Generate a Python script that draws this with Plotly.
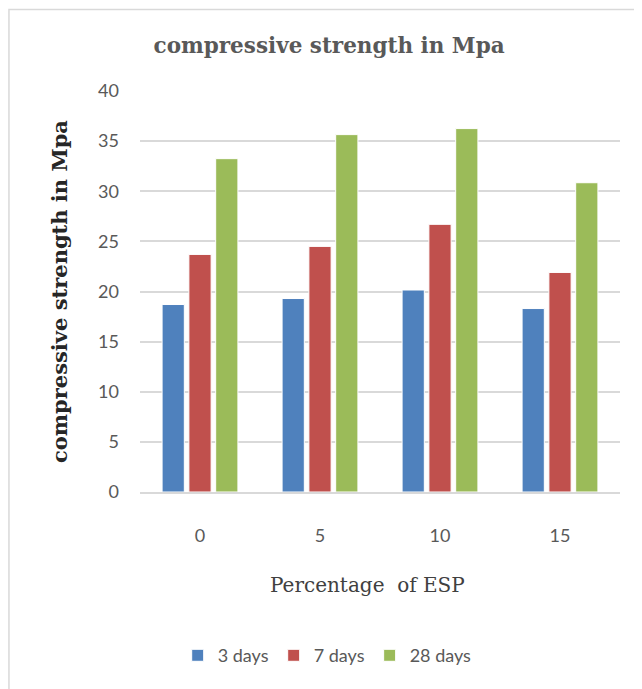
import plotly.graph_objects as go

esp = ["0", "5", "10", "15"]
days_3 = [18.7, 19.3, 20.15, 18.3]
days_7 = [23.7, 24.5, 26.7, 21.9]
days_28 = [33.25, 35.65, 36.25, 30.85]

colors = {"3 days": "#4F81BD", "7 days": "#C0504D", "28 days": "#9BBB59"}

fig = go.Figure()
for name, vals in [("3 days", days_3), ("7 days", days_7), ("28 days", days_28)]:
    fig.add_trace(go.Bar(x=esp, y=vals, name=name, marker=dict(color=colors[name], line=dict(color="white", width=1))))

# light border around the chart (only left and top edges show in the original)
fig.add_shape(type="rect", xref="paper", yref="paper", x0=-0.273, x1=1.07, y0=-0.52, y1=1.203,
              line=dict(color="#D9D9D9", width=1.5), layer="below")

# x axis title sits a little left of the plot centre in the original
fig.add_annotation(text="Percentage  of ESP", xref="paper", yref="paper", x=0.473, y=-0.232,
                   showarrow=False, xanchor="center", yanchor="middle",
                   font=dict(family="DejaVu Serif", size=20, color="#404040"))

# page body has an 8px margin, so the figure is a bit smaller than the window
fig.update_layout(
    width=634, height=681,
    margin=dict(l=132, r=22, t=83, b=197),
    paper_bgcolor="white", plot_bgcolor="white",
    barmode="group", bargap=0.33, bargroupgap=0.17,
    title=dict(text="<b>compressive strength in Mpa</b>", x=0.394, xanchor="center", xref="paper",
               y=0.945, yanchor="middle",
               font=dict(family="DejaVu Serif", size=21.5, color="#595959")),
    legend=dict(orientation="h", x=0.39, xanchor="center", y=-0.408, yanchor="middle",
                font=dict(family="Lato", size=18, color="#595959"), itemwidth=30, traceorder="normal"),
    font=dict(family="Lato", color="#595959"),
)
fig.update_yaxes(range=[0, 40], dtick=5, showgrid=True, gridcolor="#D9D9D9", gridwidth=1.5,
                 zeroline=False, showline=False, ticks="", ticklabelstandoff=20,
                 tickfont=dict(family="Lato", size=18, color="#595959"),
                 title=dict(text="<b>compressive strength in Mpa</b>", standoff=24,
                            font=dict(family="DejaVu Serif", size=21, color="#262626")))
fig.update_xaxes(showline=True, linecolor="#D9D9D9", linewidth=1.5, ticks="", ticklabelstandoff=27,
                 tickfont=dict(family="Lato", size=18, color="#595959"))

fig.write_html("out.html")
